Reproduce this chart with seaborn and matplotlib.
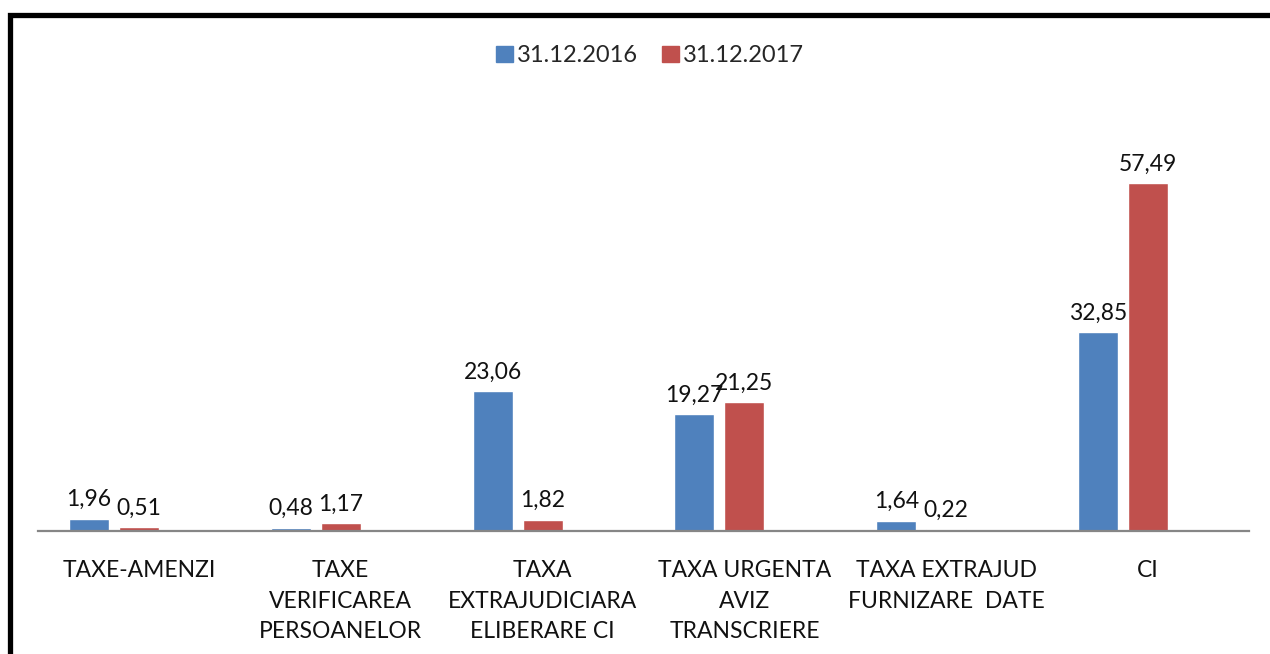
import numpy as np
import pandas as pd
import matplotlib
matplotlib.use('Agg')
import matplotlib.pyplot as plt
import matplotlib.patches as mpatches
import seaborn as sns

# Chart data
categories = ['TAXE-AMENZI', 'TAXE\nVERIFICAREA\nPERSOANELOR', 'TAXA\nEXTRAJUDICIARA\nELIBERARE CI',
              'TAXA URGENTA\nAVIZ\nTRANSCRIERE', 'TAXA EXTRAJUD\nFURNIZARE  DATE', 'CI']
series_names = ['31.12.2016', '31.12.2017']
values_2016 = [1.96, 0.48, 23.06, 19.27, 1.64, 32.85]
values_2017 = [0.51, 1.17, 1.82, 21.25, 0.22, 57.49]

blue = '#4F81BD'
red = '#C0504D'

# long table; an empty third series keeps the original Excel bar slots
df = pd.DataFrame({
    'cat': categories * 2,
    'serie': [series_names[0]] * 6 + [series_names[1]] * 6,
    'val': values_2016 + values_2017,
})

sns.set_style('white')
plt.rcParams['font.family'] = ['Lato', 'DejaVu Sans']

fig = plt.figure(figsize=(12.7, 6.54), dpi=100)
ax = fig.add_axes([0.0299, 0.1888, 0.9536, 0.6476])

sns.barplot(data=df, x='cat', y='val', hue='serie', order=categories,
            hue_order=series_names + ['_gol'], palette=[blue, red, 'white'], saturation=1,
            width=0.744, gap=0.2, legend=False, ax=ax, errorbar=None)

for cont in ax.containers:
    ax.bar_label(cont, labels=[f'{v:.2f}'.replace('.', ',') for v in cont.datavalues],
                 padding=6, fontsize=16.5, color='#111111')

ax.set_ylim(0, 70)
ax.set_xlim(-0.5, 5.5)
ax.set_xlabel('')
ax.set_ylabel('')
ax.set_yticks([])
ax.tick_params(axis='x', length=0, pad=21, labelsize=16.5, labelcolor='#111111')
for lab in ax.get_xticklabels():
    lab.set_linespacing(1.58)
    lab.set_verticalalignment('top')
for s in ['top', 'left', 'right']:
    ax.spines[s].set_visible(False)
ax.spines['bottom'].set_color('#868686')
ax.spines['bottom'].set_linewidth(1.6)

handles = [mpatches.Patch(color=blue, label=series_names[0]),
           mpatches.Patch(color=red, label=series_names[1])]
fig.legend(handles=handles, loc='center', bbox_to_anchor=(0.512, 0.915), ncol=2, frameon=False,
           fontsize=17, handlelength=0.7, handleheight=0.7, handletextpad=0.2, columnspacing=1.0)

# thick black frame, running off the right and bottom edges
frame = mpatches.Rectangle((10 / 1270, -0.05), 1.1, 1 - 14.5 / 654 + 0.05, transform=fig.transFigure,
                           fill=False, edgecolor='black', linewidth=3.8, clip_on=False)
fig.patches.append(frame)

plt.savefig('out.png', dpi=100, facecolor='white')
